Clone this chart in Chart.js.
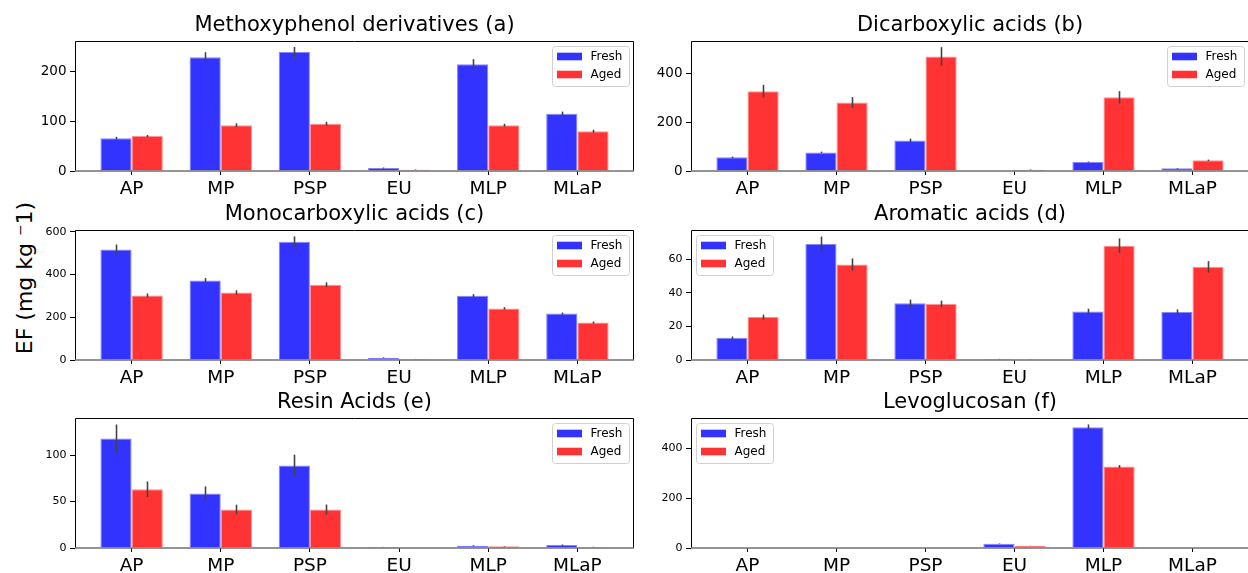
<!DOCTYPE html>
<html>
<head>
<meta charset="utf-8">
<script src="https://cdn.jsdelivr.net/npm/chart.js@4.4.1/dist/chart.umd.min.js"></script>
<style>
  body { margin: 0; background: #fff; width: 1248px; height: 573px; overflow: hidden; position: relative; font-family: "DejaVu Sans", sans-serif; }
  canvas { position: absolute; }
  #ylabel { position: absolute; left: 24px; top: 278px; transform: translate(-50%, -50%) rotate(-90deg); font-size: 22px; white-space: nowrap; color: #000; }
</style>
</head>
<body>
<div id="ylabel">EF (mg kg ⁻1)</div>
<script>
const categories = ['AP', 'MP', 'PSP', 'EU', 'MLP', 'MLaP'];
const seriesNames = ['Fresh', 'Aged'];

// (a) methoxyphenol derivatives
const methoxyFresh = [65.7, 229, 239.5, 6, 215, 115];
const methoxyAged = [70.4, 92, 95, 2.7, 92, 80];
const methoxyFreshErr = [3, 10, 10, 1, 10, 4.5];
const methoxyAgedErr = [2, 4, 4, 0.5, 3, 3];
const methoxyTicks = [0, 100, 200];

// (b) dicarboxylic acids
const dicarbFresh = [55.8, 76, 125, 0, 36.7, 11];
const dicarbAged = [326, 280, 468, 5.4, 301, 43.5];
const dicarbFreshErr = [3, 3, 7, 0, 2, 1.5];
const dicarbAgedErr = [26, 22, 38, 1, 25, 3];
const dicarbTicks = [0, 200, 400];

// (c) monocarboxylic acids
const monoFresh = [517, 372, 553, 11, 300, 217];
const monoAged = [302, 316, 352, 4.7, 241, 175];
const monoFreshErr = [23, 11, 25, 1.5, 8, 5];
const monoAgedErr = [9, 10, 11, 0.5, 6, 5];
const monoTicks = [0, 200, 400, 600];

// (d) aromatic acids
const aromFresh = [13.3, 69, 33.7, 0.6, 28.9, 28.5];
const aromAged = [25.5, 56.8, 33.3, 0.4, 68, 55.4];
const aromFreshErr = [0.7, 4.4, 2.2, 0.1, 1.6, 1.6];
const aromAgedErr = [1.5, 3.6, 2, 0.1, 4.3, 3.4];
const aromTicks = [0, 20, 40, 60];

// (e) resin acids
const resinFresh = [118, 58.6, 88.8, 1.1, 2.5, 3.2];
const resinAged = [63.3, 41.4, 41.4, 0, 1.8, 1.1];
const resinFreshErr = [15, 7.7, 11.7, 0.1, 0.5, 0.6];
const resinAgedErr = [8.4, 5.2, 5.4, 0, 0.3, 0.2];
const resinTicks = [0, 50, 100];

// (f) levoglucosan
const levoFresh = [0, 0, 0, 17.4, 486, 0];
const levoAged = [0, 0, 0, 9.4, 327.5, 0];
const levoFreshErr = [0, 0, 0, 1, 11, 0];
const levoAgedErr = [0, 0, 0, 0.5, 6, 0];
const levoTicks = [0, 200, 400];

const FONT = '"DejaVu Sans", sans-serif';
const BLUE = '#3333ff';
const RED = '#ff3333';

const panels = [
  { title: 'Methoxyphenol derivatives (a)', fresh: methoxyFresh, aged: methoxyAged, freshErr: methoxyFreshErr, agedErr: methoxyAgedErr,
    yMax: 261.6, yTicks: methoxyTicks, tickSize: 13.5, legend: 'right', left: 75, top: 41, width: 559 },
  { title: 'Dicarboxylic acids (b)', fresh: dicarbFresh, aged: dicarbAged, freshErr: dicarbFreshErr, agedErr: dicarbAgedErr,
    yMax: 531, yTicks: dicarbTicks, tickSize: 13.5, legend: 'right', left: 691, top: 41, width: 558 },
  { title: 'Monocarboxylic acids (c)', fresh: monoFresh, aged: monoAged, freshErr: monoFreshErr, agedErr: monoAgedErr,
    yMax: 608, yTicks: monoTicks, tickSize: 11, legend: 'right', left: 75, top: 230, width: 559 },
  { title: 'Aromatic acids (d)', fresh: aromFresh, aged: aromAged, freshErr: aromFreshErr, agedErr: aromAgedErr,
    yMax: 77.3, yTicks: aromTicks, tickSize: 11, legend: 'left', left: 691, top: 230, width: 558 },
  { title: 'Resin Acids (e)', fresh: resinFresh, aged: resinAged, freshErr: resinFreshErr, agedErr: resinAgedErr,
    yMax: 140, yTicks: resinTicks, tickSize: 11, legend: 'right', left: 75, top: 418, width: 559 },
  { title: 'Levoglucosan (f)', fresh: levoFresh, aged: levoAged, freshErr: levoFreshErr, agedErr: levoAgedErr,
    yMax: 523, yTicks: levoTicks, tickSize: 11, legend: 'left', left: 691, top: 418, width: 558 },
];

const LEFT_W = 70, TOP_H = 41, BOTTOM_H = 34, RIGHT_W = 6, BOX_H = 130;

// error bars, axes frame and the small legend box
const panelDecor = {
  id: 'panelDecor',
  afterDatasetsDraw(chart) {
    const ctx = chart.ctx;
    const y = chart.scales.y;
    ctx.save();
    ctx.strokeStyle = '#444';
    ctx.lineWidth = 1.6;
    chart.data.datasets.forEach((ds, di) => {
      const meta = chart.getDatasetMeta(di);
      meta.data.forEach((bar, i) => {
        const v = ds.data[i].y, e = ds.errors[i];
        if (!e) return;
        const x = Math.round(bar.x) + 0.5;
        ctx.beginPath();
        ctx.moveTo(x, y.getPixelForValue(Math.max(v - e, 0)));
        ctx.lineTo(x, y.getPixelForValue(v + e));
        ctx.stroke();
      });
    });
    ctx.restore();
  },
  afterDraw(chart, args, opts) {
    const ctx = chart.ctx;
    const ca = chart.chartArea;
    ctx.save();
    ctx.strokeStyle = '#000';
    ctx.lineWidth = 1;
    ctx.beginPath();
    ctx.moveTo(ca.left + 0.5, ca.bottom);
    ctx.lineTo(ca.left + 0.5, ca.top + 0.5);
    ctx.lineTo(ca.right - 0.5, ca.top + 0.5);
    ctx.lineTo(ca.right - 0.5, ca.bottom);
    ctx.stroke();
    ctx.strokeStyle = '#707070';
    ctx.lineWidth = 1.5;
    ctx.beginPath();
    ctx.moveTo(ca.left, ca.bottom);
    ctx.lineTo(ca.right, ca.bottom);
    ctx.stroke();

    const bw = 77, bh = 40;
    const bx = opts.side === 'left' ? ca.left + 5 : ca.right - 5 - bw;
    const by = ca.top + 5;
    ctx.beginPath();
    ctx.roundRect(bx + 0.5, by + 0.5, bw, bh, 3);
    ctx.fillStyle = 'rgba(255,255,255,0.8)';
    ctx.fill();
    ctx.strokeStyle = '#d0d0d0';
    ctx.lineWidth = 1;
    ctx.stroke();
    ctx.font = '12px ' + FONT;
    ctx.textBaseline = 'middle';
    chart.data.datasets.forEach((ds, di) => {
      const cy = by + 10.5 + di * 18;
      ctx.fillStyle = ds.backgroundColor;
      ctx.fillRect(bx + 5, cy - 3.8, 25, 7.6);
      ctx.fillStyle = '#000';
      ctx.fillText(ds.label, bx + 38.5, cy + 0.5);
    });
    ctx.restore();
  }
};

function makePanel(p) {
  const canvas = document.createElement('canvas');
  const cw = LEFT_W + p.width + RIGHT_W;
  const ch = TOP_H + BOX_H + BOTTOM_H;
  canvas.width = cw;
  canvas.height = ch;
  canvas.style.left = (p.left - LEFT_W) + 'px';
  canvas.style.top = (p.top - TOP_H) + 'px';
  canvas.style.width = cw + 'px';
  canvas.style.height = ch + 'px';
  document.body.appendChild(canvas);

  const mk = (label, vals, errs, color) => ({
    label: label,
    data: vals.map((v, i) => ({ x: i, y: v })),
    errors: errs,
    backgroundColor: color,
    borderColor: color === BLUE ? 'rgba(120,120,255,0.9)' : 'rgba(255,130,130,0.9)',
    borderWidth: 1,
    borderSkipped: 'bottom',
    categoryPercentage: 0.7,
    barPercentage: 1.0,
  });

  new Chart(canvas, {
    type: 'bar',
    data: {
      datasets: [
        mk(seriesNames[0], p.fresh, p.freshErr, BLUE),
        mk(seriesNames[1], p.aged, p.agedErr, RED),
      ],
    },
    options: {
      responsive: false,
      animation: false,
      devicePixelRatio: 1,
      layout: { padding: { left: 0, right: RIGHT_W, top: 0, bottom: 0 } },
      scales: {
        x: {
          type: 'linear',
          min: -0.635,
          max: 5.635,
          offset: false,
          grid: { display: true, drawOnChartArea: false, offset: false, tickLength: 4, tickColor: '#000' },
          border: { display: false },
          ticks: {
            stepSize: 1,
            includeBounds: false,
            autoSkip: false,
            maxRotation: 0,
            padding: 3,
            color: '#000',
            font: { family: FONT, size: 18.5 },
            callback: v => (Number.isInteger(v) ? categories[v] : ''),
          },
          afterFit: s => { s.height = BOTTOM_H; },
        },
        y: {
          min: 0,
          max: p.yMax,
          grid: { display: true, drawOnChartArea: false, tickLength: 5, tickColor: '#000' },
          border: { display: false },
          ticks: {
            padding: 3.5,
            color: '#000',
            font: { family: FONT, size: p.tickSize },
          },
          afterBuildTicks: s => { s.ticks = p.yTicks.map(v => ({ value: v })); },
          afterFit: s => { s.width = LEFT_W; },
        },
      },
      plugins: {
        legend: { display: false },
        tooltip: { enabled: false },
        title: {
          display: true,
          text: p.title,
          fullSize: false,
          color: '#000',
          font: { family: FONT, size: 21, weight: 'normal', lineHeight: 1.2 },
          padding: { top: 12.5, bottom: 3.3 },
        },
        panelDecor: { side: p.legend },
      },
    },
    plugins: [panelDecor],
  });
}

panels.forEach(makePanel);
</script>
</body>
</html>
